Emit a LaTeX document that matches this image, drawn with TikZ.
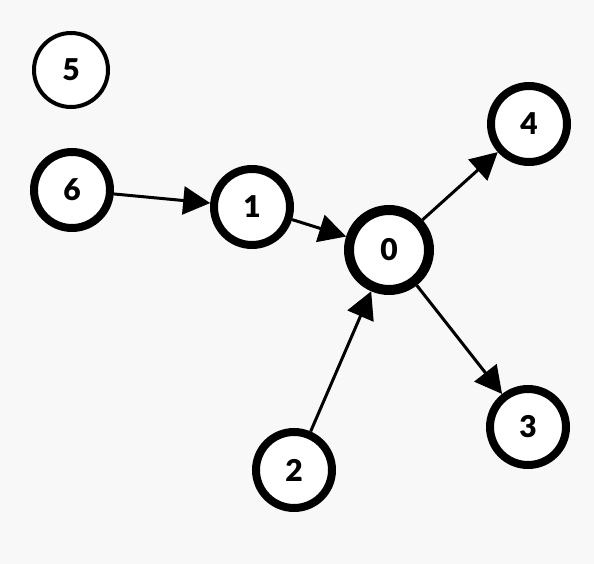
\documentclass[tikz,border=0pt]{standalone}
\usepackage{fontspec}
\setmainfont{Lato}[BoldFont={Lato Black}]
\usetikzlibrary{arrows.meta}
\definecolor{bgcol}{HTML}{F8F8F8}

\begin{document}
\begin{tikzpicture}[
        x=1pt, y=-1pt,
        vertex/.style={draw, circle, fill=white, inner sep=0pt, minimum size=76pt, line width=8pt,
            font=\fontsize{30pt}{30pt}\selectfont\bfseries},
        hub/.style={vertex, minimum size=80pt, line width=10pt},
        lone/.style={vertex, minimum size=74pt, line width=4pt},
        link/.style={-{Triangle[length=27pt, width=28pt]}, line width=3pt}
    ]

    \fill[bgcol] (0,0) rectangle (594,564);
    \useasboundingbox (0,0) rectangle (594,564);

    \node[lone] (n5) at (71,70) {5};
    \node[vertex] (n6) at (72,190) {6};
    \node[vertex] (n1) at (252,207) {1};
    \node[hub] (n0) at (389,250) {0};
    \node[vertex] (n4) at (529,124) {4};
    \node[vertex] (n3) at (528,427) {3};
    \node[vertex] (n2) at (294,470) {2};

    \draw[link] (n6) -- (n1);
    \draw[link] (n1) -- (n0);
    \draw[link] (n2) -- (n0);
    \draw[link] (n0) -- (n4);
    \draw[link] (n0) -- (n3);

\end{tikzpicture}
\end{document}
